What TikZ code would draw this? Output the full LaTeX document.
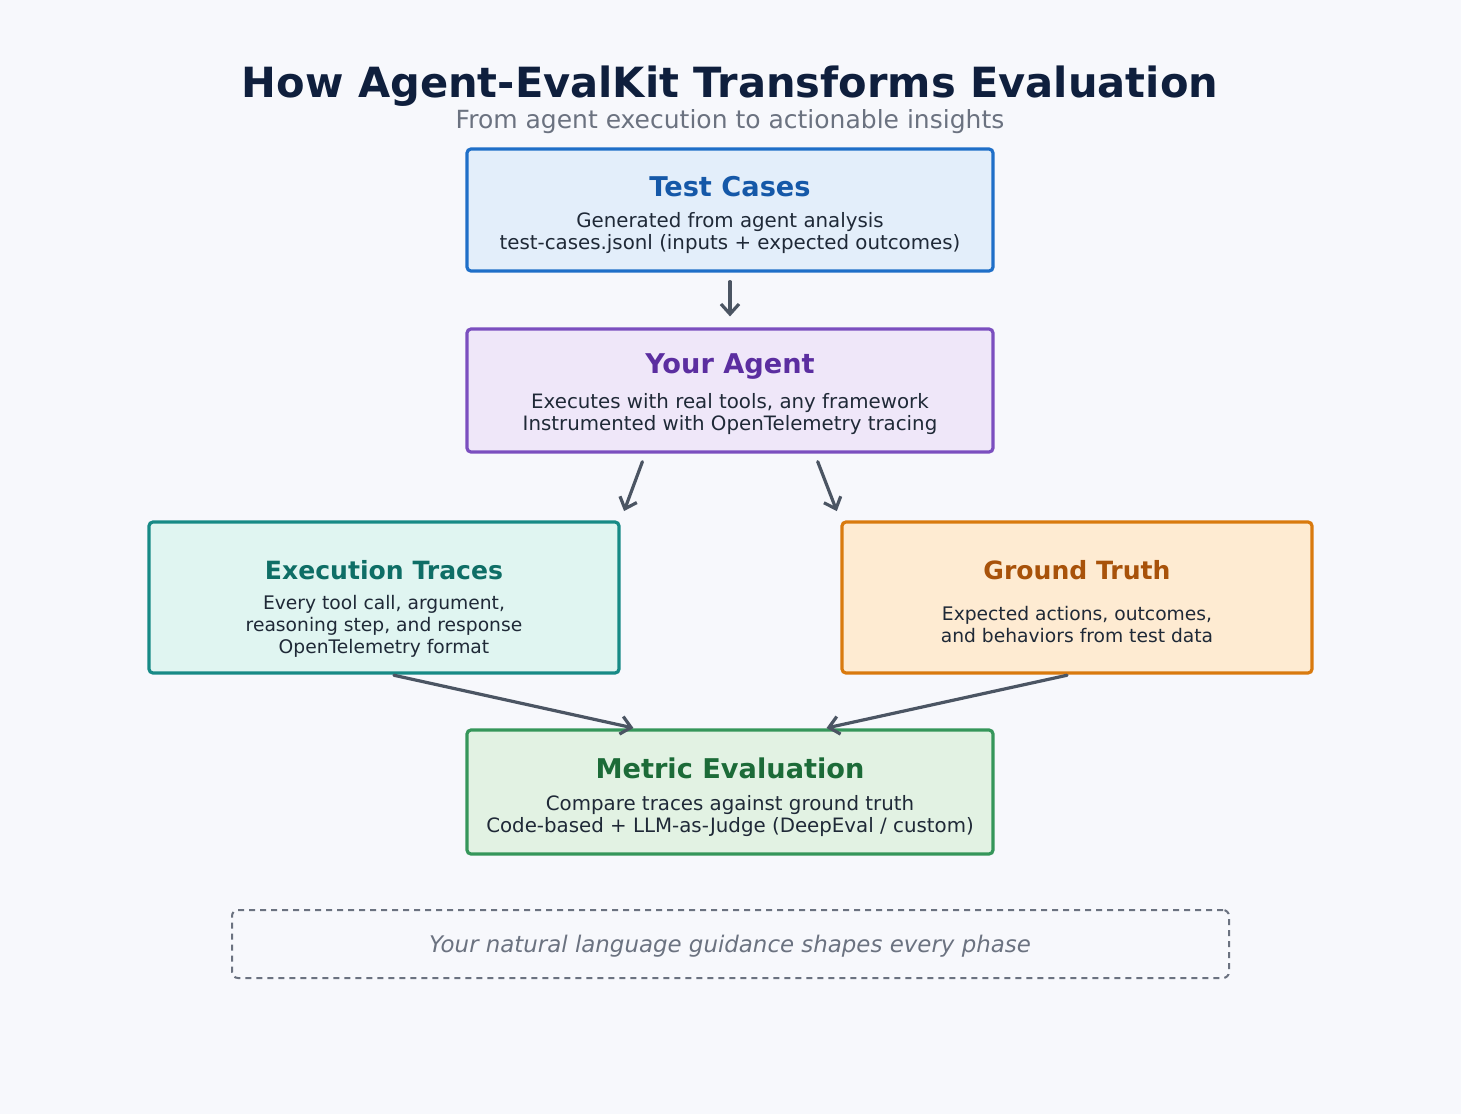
\documentclass[tikz,border=0pt]{standalone}
\usepackage{fontspec}
\setmainfont{DejaVu Sans}
\usetikzlibrary{calc,arrows.meta}
\definecolor{bg}{HTML}{F7F8FC}
\definecolor{arr}{HTML}{4B5563}
\definecolor{ttl}{HTML}{0F1F3D}
\definecolor{sub}{HTML}{6B7280}
\definecolor{body}{HTML}{1F2937}
\definecolor{bluB}{HTML}{1F6FC8}\definecolor{bluF}{HTML}{E3EEFA}\definecolor{bluT}{HTML}{1558A8}
\definecolor{purB}{HTML}{7B4FBF}\definecolor{purF}{HTML}{EFE7F9}\definecolor{purT}{HTML}{5B2EA0}
\definecolor{tealB}{HTML}{178A86}\definecolor{tealF}{HTML}{E0F5F1}\definecolor{tealT}{HTML}{0E6E66}
\definecolor{orB}{HTML}{D97A0E}\definecolor{orF}{HTML}{FEEBD2}\definecolor{orT}{HTML}{A8520A}
\definecolor{grB}{HTML}{35965A}\definecolor{grF}{HTML}{E2F2E3}\definecolor{grT}{HTML}{1C6B38}
\begin{document}
\begin{tikzpicture}[x=1pt,y=-1pt,
  box/.style={draw, line width=3.2pt, rounded corners=4pt, inner sep=0pt},
  boxtitle/.style={font=\fontsize{27.2}{32}\selectfont\bfseries, inner sep=0pt},
  sidetitle/.style={font=\fontsize{25.1}{30}\selectfont\bfseries, inner sep=0pt},
  boxbody/.style={font=\fontsize{19.8}{22}\selectfont, text=body, align=center, inner sep=0pt},
  sidebody/.style={font=\fontsize{18.7}{22}\selectfont, text=body, align=center, inner sep=0pt},
  conn/.style={draw=arr, line width=3.2pt, -{Straight Barb[length=10pt,width=18pt,line width=3.2pt]}, line cap=round}
]
\fill[bg] (0,0) rectangle (1461,1114);
\useasboundingbox (0,0) rectangle (1461,1114);

\node[font=\fontsize{41.6}{48}\selectfont\bfseries, text=ttl, inner sep=0pt] (title) at (730,86) {How Agent-EvalKit Transforms Evaluation};
\node[font=\fontsize{25}{30}\selectfont, text=sub, inner sep=0pt] (subtitle) at (730,122) {From agent execution to actionable insights};

% boxes
\node[box, draw=bluB, fill=bluF, minimum width=526pt, minimum height=122pt] (tc) at (730,210) {};
\node[boxtitle, text=bluT] (tct) at (730,187) {Test Cases};
\node[boxbody] (tcb) at (730,233) {Generated from agent analysis\\test-cases.jsonl (inputs + expected outcomes)};

\node[box, draw=purB, fill=purF, minimum width=526pt, minimum height=123pt] (ag) at (730,390.5) {};
\node[boxtitle, text=purT] (agt) at (730,367) {Your Agent};
\node[boxbody] (agb) at (730,414) {Executes with real tools, any framework\\Instrumented with OpenTelemetry tracing};

\node[box, draw=tealB, fill=tealF, minimum width=470pt, minimum height=151pt] (et) at (384,597.5) {};
\node[sidetitle, text=tealT] (ett) at (384,570) {Execution Traces};
\node[sidebody] (etb) at (384,626) {Every tool call, argument,\\reasoning step, and response\\OpenTelemetry format};

\node[box, draw=orB, fill=orF, minimum width=470pt, minimum height=151pt] (gt) at (1077,597.5) {};
\node[sidetitle, text=orT] (gtt) at (1077,570) {Ground Truth};
\node[sidebody] (gtb) at (1077,625) {Expected actions, outcomes,\\and behaviors from test data};

\node[box, draw=grB, fill=grF, minimum width=526pt, minimum height=124pt] (me) at (730,792) {};
\node[boxtitle, text=grT] (met) at (730,768) {Metric Evaluation};
\node[boxbody] (meb) at (730,816) {Compare traces against ground truth\\Code-based + LLM-as-Judge (DeepEval / custom)};

\node[draw=sub, line width=2pt, dashed, dash pattern=on 6pt off 5pt, rounded corners=6pt, minimum width=997pt, minimum height=68pt, inner sep=0pt] (guide) at (730.5,944) {};
\node[font=\fontsize{22.9}{27}\selectfont\itshape, text=sub, inner sep=0pt] (guidet) at (730,946) {Your natural language guidance shapes every phase};

% connectors
\draw[conn, shorten <=9pt, shorten >=11pt] (tc.south) -- (ag.north);
\draw[conn, shorten <=8.6pt, shorten >=10pt] ($(ag.south west)+(180,0)$) -- (et.north east);
\draw[conn, shorten <=8.6pt, shorten >=10pt] ($(ag.south east)+(-180,0)$) -- (gt.north west);
\draw[conn, shorten <=3pt, shorten >=2pt] ($(et.south)+(7,0)$) -- ($(me.north west)+(170,0)$);
\draw[conn, shorten <=3pt, shorten >=2pt] ($(gt.south)+(-7,0)$) -- ($(me.north east)+(-170,0)$);
\end{tikzpicture}
\end{document}
